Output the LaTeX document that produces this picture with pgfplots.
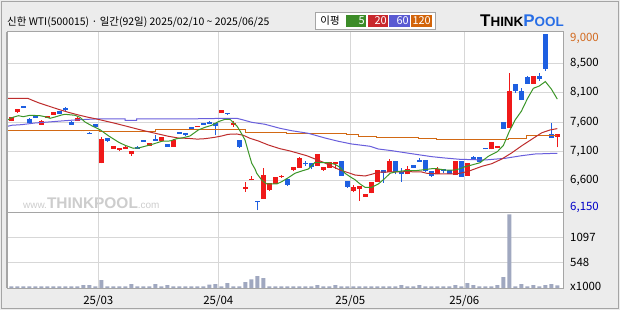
\documentclass[border=0pt]{standalone}
\usepackage{pgfplots}
\usepackage{pgfplotstable}
\pgfplotsset{compat=1.18}
\usepackage{fontspec}
\setmainfont{Liberation Sans}
\newfontfamily\kr{Noto Sans CJK KR}
\definecolor{bg}{RGB}{236,236,236}
\definecolor{upc}{RGB}{240,25,25}
\definecolor{dnc}{RGB}{30,95,225}
\definecolor{mafive}{RGB}{60,150,40}
\definecolor{matwenty}{RGB}{190,45,45}
\definecolor{masixty}{RGB}{105,95,220}
\definecolor{maonetwenty}{RGB}{210,105,20}
\definecolor{gridc}{RGB}{215,215,215}
\definecolor{framec}{RGB}{165,165,165}
\definecolor{volc}{RGB}{160,168,192}
\definecolor{wmc}{RGB}{205,205,205}
\definecolor{poolc}{RGB}{40,110,230}
\definecolor{lgreen}{RGB}{60,140,40}
\definecolor{lred}{RGB}{200,40,45}
\definecolor{lblue}{RGB}{90,90,210}
\definecolor{lorange}{RGB}{210,100,10}
\definecolor{maxc}{RGB}{210,105,30}
\definecolor{minc}{RGB}{0,0,200}

\pgfplotstableread{
i o h l c
0 7590 7650 7590 7650
1 7735 7785 7720 7785
5 7530 7610 7530 7595
6 7645 7670 7645 7670
7 7690 7735 7690 7735
11 7595 7660 7595 7645
12 7425 7440 7425 7440
15 6905 7340 6905 7295
17 7145 7185 7145 7185
18 7125 7155 7105 7155
19 7140 7200 7140 7170
20 7060 7105 7030 7105
23 7190 7235 7190 7235
25 7270 7330 7270 7330
27 7175 7300 7175 7285
31 7497 7513 7497 7513
35 7720 7770 7720 7770
37 7520 7585 7495 7565
39 6495 6600 6445 6520
40 6630 6700 6630 6645
42 6335 6835 6335 6717
43 6474 6588 6453 6588
44 6577 6685 6577 6685
45 6685 6717 6674 6701
47 6798 6847 6777 6847
48 6836 7009 6836 6992
51 6868 7057 6868 7057
52 6798 6847 6787 6847
53 6836 6923 6836 6923
54 6890 6933 6819 6933
57 6458 6560 6437 6528
58 6495 6544 6301 6544
59 6366 6405 6366 6405
60 6418 6601 6418 6601
61 6604 6798 6604 6798
63 6761 6971 6761 6944
66 6729 6863 6729 6809
71 6729 6847 6729 6819
74 6717 6944 6717 6944
76 6706 6911 6706 6911
80 7133 7252 7133 7252
81 7154 7187 7154 7187
83 7483 8373 7483 8077
87 8195 8320 8195 8320
91 7337 7381 7163 7381
}\upT

\pgfplotstableread{
i o h l c
2 7835 7835 7805 7805
3 7625 7640 7565 7565
4 7665 7665 7645 7645
8 7755 7755 7705 7705
9 7800 7820 7755 7765
10 7570 7585 7530 7530
13 7405 7420 7380 7390
14 7545 7545 7495 7495
16 7310 7310 7250 7275
21 7170 7185 7145 7145
22 7285 7285 7255 7255
24 7300 7365 7275 7275
26 7220 7220 7175 7175
28 7420 7420 7385 7385
29 7395 7395 7355 7365
30 7495 7495 7465 7465
32 7565 7565 7530 7530
33 7580 7590 7545 7545
34 7560 7560 7360 7510
36 7722 7722 7695 7708
38 7285 7285 7155 7175
41 6290 6290 6150 6275
46 6657 6657 6539 6560
49 6916 6944 6863 6890
50 6911 6911 6810 6852
55 6944 6944 6706 6706
56 6615 6615 6512 6528
62 6798 6798 6593 6750
64 6944 6944 6729 6761
65 6761 6835 6609 6729
67 6879 6879 6836 6836
68 6960 6992 6928 6928
69 6960 6960 6766 6787
70 6777 6777 6690 6706
72 6814 6814 6755 6782
73 6798 6798 6738 6738
75 6944 6944 6690 6690
77 7009 7020 6976 6976
78 7009 7009 6928 6928
79 7154 7154 7133 7133
82 7575 7575 7467 7467
84 8191 8191 8045 8077
85 8077 8126 7931 7931
86 8304 8320 8195 8195
88 8320 8364 8239 8267
89 9000 9000 8406 8438
90 7381 7559 7324 7324
}\dnT

\pgfplotstableread{
i v
0 35
1 35
2 35
3 35
4 35
5 35
6 35
7 35
8 35
9 35
10 35
11 35
12 65
13 65
14 35
15 173
16 35
17 35
18 35
19 35
20 86
21 35
22 35
23 35
24 86
25 35
26 65
27 35
28 35
29 35
30 35
31 35
32 35
33 72
34 86
35 35
36 108
37 35
38 35
39 130
40 187
41 259
42 216
43 35
44 35
45 35
46 35
47 35
48 35
49 35
50 35
51 65
52 35
53 35
54 65
55 35
56 35
57 35
58 35
59 35
60 35
61 35
62 35
63 35
64 35
65 65
66 35
67 35
68 65
69 35
70 35
71 35
72 35
73 35
74 65
75 35
76 108
77 65
78 35
79 35
80 35
81 65
82 238
83 1598
84 35
85 86
86 35
87 65
88 35
89 65
90 86
91 55
}\volT

\pgfplotsset{
  candle/.style 2 args={draw=none, mark=none,
    error bars/.cd, y dir=plus, y explicit, error mark=none,
    error bar style={draw=#1, line width=#2, solid}},
}

\begin{document}
\begin{tikzpicture}
\fill[bg] (0bp,0bp) rectangle (620bp,310bp);
\draw[framec, line width=1bp] (1.5bp,1.5bp) rectangle (618.5bp,308.5bp);
\fill[white] (7bp,22bp) rectangle (563bp,278bp);
% watermark
\node[anchor=base west, inner sep=0pt, text=wmc] at (23bp,101bp)
  {{\fontsize{10}{10}\selectfont www.}{\bfseries\fontsize{15.5}{15.5}\selectfont THINKPOOL}{\fontsize{10}{10}\selectfont .com}};

\begin{axis}[
  at={(7bp,97bp)}, anchor=south west, scale only axis,
  width=556bp, height=181bp,
  xmin=-0.72, xmax=91.95, ymin=6102, ymax=9032,
  xtick={14.5,34.5,56.5,75.5}, xticklabels={},
  ytick={6625,7095,7564,8050,8526},
  yticklabels={{6,600},{7,100},{7,600},{8,100},{8,500}},
  yticklabel pos=right,
  yticklabel style={font=\kr\fontsize{11.5}{12}\selectfont, anchor=west, inner sep=0pt, xshift=7bp},
  xmajorgrids, ymajorgrids,
  grid style={draw=gridc, line width=0.8bp},
  major tick length=0pt, tick style={draw=none},
  axis line style={draw=framec, line width=1bp},
]
% wicks
\addplot[candle={upc}{1bp}] table[x=i, y=l, y error expr=\thisrow{h}-\thisrow{l}] {\upT};
\addplot[candle={dnc}{1bp}] table[x=i, y=l, y error expr=\thisrow{h}-\thisrow{l}] {\dnT};
% bodies
\addplot[candle={upc}{4.6bp}] table[x=i, y=o, y error expr=\thisrow{c}-\thisrow{o}] {\upT};
\addplot[candle={dnc}{4.6bp}] table[x=i, y=c, y error expr=\thisrow{o}-\thisrow{c}] {\dnT};
% MA120
\addplot[maonetwenty, line width=1bp, const plot mark left, mark=none] coordinates {
(-0.6,7430) (8.95,7441) (14.78,7425) (23.95,7446) (38.95,7410) (45.9,7381) (55.9,7365)
(57.83,7345) (60.9,7328) (67.83,7311) (70.9,7295) (79.5,7284) (82.83,7316) (85.9,7349) (91,7349)};
% MA60
\addplot[masixty, line width=1bp, mark=none] coordinates {
(-0.6,7506) (0.07,7522) (1.73,7532) (3.95,7559) (6.17,7575) (8.4,7592) (10.62,7608) (13.95,7624)
(18.95,7624) (18.95,7603) (20.9,7603) (20.9,7624) (29.78,7624) (32,7630) (37.57,7635) (38.67,7608)
(40.07,7570) (42.28,7538) (44.78,7473) (46.73,7434) (49.5,7392) (52.28,7316) (54.5,7263) (56.73,7219)
(59.78,7182) (61.17,7138) (63.4,7111) (65.62,7078) (67.83,7046) (70.07,7014) (72.28,6992) (74.78,6971)
(78.95,6960) (82.28,6987) (85.07,7030) (87.28,7057) (91,7069)};
% MA20
\addplot[matwenty, line width=1bp, mark=none] coordinates {
(-0.6,7959) (2.73,7959) (3.4,7931) (4.5,7888) (6.17,7834) (7.83,7781) (9.5,7732) (11.17,7689)
(12.83,7651) (13.95,7629) (15.62,7592) (17.28,7554) (19.5,7499) (21.17,7457) (22.83,7418) (24.5,7381)
(26.17,7344) (27.83,7316) (29.5,7310) (31,7298) (32.28,7305) (33.95,7328) (35.07,7349) (36.17,7376)
(37.57,7381) (38.67,7360) (39.78,7311) (41.17,7268) (42.83,7203) (44.78,7143) (46.45,7106) (49.23,7030)
(52.0,6923) (54.78,6798) (56.45,6745) (57.28,6717) (58.95,6701) (60.07,6729) (61.17,6761) (62.83,6766)
(66.17,6771) (68.4,6766) (69.23,6745) (71.17,6734) (73.4,6734) (74.78,6745) (76.17,6777) (78.5,6860)
(80.07,6900) (81.73,6975) (83.4,7075) (85.07,7190) (86.73,7295) (88.4,7400) (89.78,7446) (91,7468)};
% MA5
\addplot[mafive, line width=1bp, mark=none] coordinates {
(-0.6,7608) (0.07,7645) (1.17,7677) (2.0,7661) (3.12,7684) (4.78,7677) (5.62,7661) (6.45,7635)
(7.28,7656) (8.4,7689) (8.95,7700) (10.6,7684) (11.45,7651) (12.28,7575) (13.4,7515) (14.78,7450)
(16.17,7353) (17.83,7251) (18.95,7198) (20.33,7150) (21.17,7154) (22.28,7182) (23.67,7219) (25.07,7263)
(26.45,7268) (27.57,7305) (28.67,7321) (29.78,7349) (31.17,7446) (32.28,7489) (33.4,7522) (34.5,7580)
(35.62,7619) (36.5,7615) (37.0,7564) (37.6,7511) (38.12,7430) (38.95,7284) (39.5,7095) (40.07,6907)
(40.62,6814) (40.9,6745) (41.73,6636) (42.57,6572) (44.23,6572) (45.07,6609) (46.17,6674) (47.28,6745)
(48.4,6782) (49.5,6814) (50.62,6923) (51.73,6916) (52.83,6916) (53.95,6890) (54.78,6842) (55.62,6745)
(56.45,6690) (57.28,6641) (58.12,6572) (58.95,6518) (60.07,6518) (61.17,6572) (62.28,6664) (63.12,6745)
(64.23,6771) (65.62,6787) (67.28,6787) (68.4,6798) (70.07,6819) (70.9,6819) (72.28,6798) (73.95,6798)
(74.78,6819) (75.62,6852) (76.73,6879) (78.12,6916) (79.5,7020) (81,7095) (82,7193) (83,7423)
(84,7612) (85,7748) (86,7949) (87,8120) (88,8158) (89,8230) (90,8109) (91,7946)};
\end{axis}

\begin{axis}[
  at={(7bp,22bp)}, anchor=south west, scale only axis,
  width=556bp, height=75bp,
  xmin=-0.72, xmax=91.95, ymin=0, ymax=1626,
  xtick={14.5,34.5,56.5,75.5}, xticklabels={25/03,25/04,25/05,25/06},
  xticklabel style={font=\kr\fontsize{11.5}{12}\selectfont, anchor=center, inner sep=0pt, yshift=-13bp},
  ytick={548,1097}, yticklabels={548,1097},
  yticklabel pos=right,
  yticklabel style={font=\kr\fontsize{11.5}{12}\selectfont, anchor=west, inner sep=0pt, xshift=7bp},
  xmajorgrids, ymajorgrids,
  grid style={draw=gridc, line width=0.8bp},
  major tick length=0pt, tick style={draw=none},
  axis line style={draw=framec, line width=1bp},
]
\addplot[ybar, bar width=4bp, fill=volc, draw=none] table[x=i, y=v] {\volT};
\end{axis}

\draw[framec, line width=1.5bp] (7bp,22bp) -- (7bp,278bp);

% right labels
\node[anchor=west, inner sep=0pt, text=maxc, font=\kr\fontsize{11.5}{12}\selectfont] at (570bp,272bp) {9,000};
\node[anchor=west, inner sep=0pt, text=minc, font=\kr\fontsize{11.5}{12}\selectfont] at (570bp,103bp) {6,150};
\node[anchor=west, inner sep=0pt, font=\kr\fontsize{11.5}{12}\selectfont] at (570bp,24bp) {x1000};

% title
\node[anchor=west, inner sep=0pt, font=\kr\fontsize{10.5}{12}\selectfont] at (7bp,287.5bp)
  {신한 WTI(500015) · 일간(92일) 2025/02/10 \textasciitilde{} 2025/06/25};

% legend
\draw[framec, fill=white, line width=0.8bp] (315bp,280.7bp) rectangle (435.6bp,297.3bp);
\node[inner sep=0pt, font=\kr\fontsize{10.5}{12}\selectfont] at (330bp,289bp) {이평};
\fill[lgreen] (346bp,283.3bp) rectangle (366bp,295bp);
\fill[lred] (367.6bp,283.3bp) rectangle (388bp,295bp);
\fill[lblue] (389.3bp,283.3bp) rectangle (410bp,295bp);
\fill[lorange] (411bp,283.3bp) rectangle (431.6bp,295bp);
\node[anchor=east, inner sep=0pt, text=white, font=\kr\fontsize{11}{12}\selectfont] at (365bp,289bp) {5};
\node[anchor=east, inner sep=0pt, text=white, font=\kr\fontsize{11}{12}\selectfont] at (387bp,289bp) {20};
\node[anchor=east, inner sep=0pt, text=white, font=\kr\fontsize{11}{12}\selectfont] at (409bp,289bp) {60};
\node[anchor=east, inner sep=0pt, text=white, font=\kr\fontsize{11}{12}\selectfont] at (431bp,289bp) {120};

% logo
\node[anchor=base west, inner sep=0pt] at (480bp,283bp)
  {\bfseries{\fontsize{17}{17}\selectfont T}{\fontsize{13.5}{13.5}\selectfont HINK}{\color{poolc}{\fontsize{17}{17}\selectfont P}{\fontsize{13.5}{13.5}\selectfont OOL}}};
\end{tikzpicture}
\end{document}
